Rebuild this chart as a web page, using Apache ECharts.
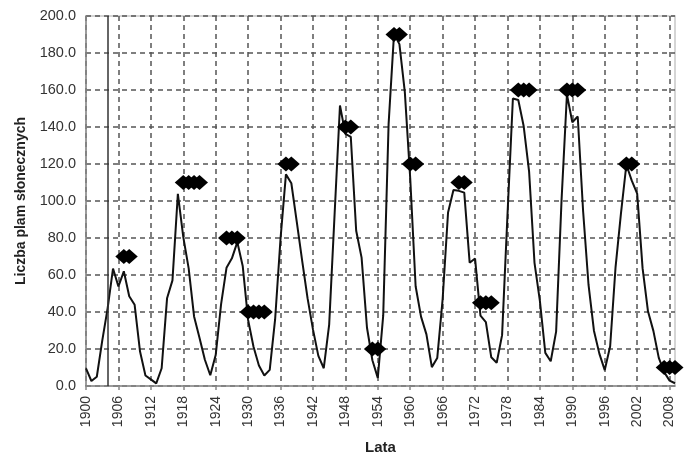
<!DOCTYPE html>
<html>
<head>
<meta charset="utf-8">
<script src="https://cdn.jsdelivr.net/npm/echarts@6/dist/echarts.min.js"></script>
<style>
html,body{margin:0;padding:0;background:#fff;}
#chart{width:699px;height:461px;}
</style>
</head>
<body>
<div id="chart"></div>
<script>
// Categories: years
var years = ['1900','1901','1902','1903','1904','1905','1906','1907','1908','1909',
'1910','1911','1912','1913','1914','1915','1916','1917','1918','1919',
'1920','1921','1922','1923','1924','1925','1926','1927','1928','1929',
'1930','1931','1932','1933','1934','1935','1936','1937','1938','1939',
'1940','1941','1942','1943','1944','1945','1946','1947','1948','1949',
'1950','1951','1952','1953','1954','1955','1956','1957','1958','1959',
'1960','1961','1962','1963','1964','1965','1966','1967','1968','1969',
'1970','1971','1972','1973','1974','1975','1976','1977','1978','1979',
'1980','1981','1982','1983','1984','1985','1986','1987','1988','1989',
'1990','1991','1992','1993','1994','1995','1996','1997','1998','1999',
'2000','2001','2002','2003','2004','2005','2006','2007','2008','2009'];

// Yearly sunspot numbers
var sunspots = [9.5,2.7,5.0,24.4,42.0,63.5,53.8,62.0,48.5,43.9,
18.6,5.7,3.6,1.4,9.6,47.4,57.1,103.9,80.6,63.6,
37.6,26.1,14.2,5.8,16.7,44.3,63.9,69.0,77.8,64.9,
35.7,21.2,11.1,5.7,8.7,36.1,79.7,114.4,109.6,88.8,
67.8,47.5,30.6,16.3,9.6,33.2,92.6,151.6,136.3,134.7,
83.9,69.4,31.5,13.9,4.4,38.0,141.7,190.2,184.8,159.0,
112.3,53.9,37.5,27.9,10.2,15.1,47.0,93.8,105.9,105.5,
104.5,66.6,68.9,38.0,34.5,15.5,12.6,27.5,92.5,155.4,
154.6,140.4,115.9,66.6,45.9,17.9,13.4,29.4,100.2,157.6,
142.6,145.7,94.3,54.6,29.9,17.5,8.6,21.5,64.3,93.3,
119.6,111.0,104.0,63.7,40.4,29.8,15.2,7.5,2.9,1.5];

// Diamond markers
var markerYears = ['1907','1908',
'1918','1919','1920','1921',
'1926','1927','1928',
'1930','1931','1932','1933',
'1937','1938',
'1948','1949',
'1953','1954',
'1957','1958',
'1960','1961',
'1969','1970',
'1973','1974','1975',
'1980','1981','1982',
'1989','1990','1991',
'2000','2001',
'2007','2008','2009'];
var markerValues = [70,70,
110,110,110,110,
80,80,80,
40,40,40,40,
120,120,
140,140,
20,20,
190,190,
120,120,
110,110,
45,45,45,
160,160,160,
160,160,160,
120,120,
10,10,10];

// Solid vertical reference line
var refYears = ['1904'];

// Y axis range
var yMin = 0, yMax = 200, yStep = 20;

var markerData = markerYears.map(function(y, i){ return [y, markerValues[i]]; });

var chart = echarts.init(document.getElementById('chart'), null, {renderer:'canvas'});
var font = '"Liberation Sans", Arial, sans-serif';
chart.setOption({
  animation: false,
  backgroundColor: '#fff',
  grid: {left: 86, right: 24, top: 16, bottom: 75, show: true, borderColor: '#c8c8c8', borderWidth: 1.5},
  xAxis: {
    type: 'category',
    data: years,
    boundaryGap: false,
    name: 'Lata',
    nameLocation: 'middle',
    nameGap: 54,
    nameTextStyle: {fontFamily: font, fontWeight: 'bold', fontSize: 15, color: '#222'},
    axisLine: {show: true, lineStyle: {color: '#888', width: 1.5}},
    axisTick: {show: true, interval: 5, length: 4, lineStyle: {color: '#888', width: 1.5}},
    axisLabel: {interval: 5, rotate: 90, margin: 10, fontFamily: font, fontSize: 14, color: '#333'},
    splitLine: {show: true, interval: 5, lineStyle: {color: '#555', type: [5, 4], width: 1.5}}
  },
  yAxis: {
    type: 'value',
    min: yMin, max: yMax, interval: yStep,
    name: 'Liczba plam słonecznych',
    nameLocation: 'middle',
    nameGap: 58,
    nameTextStyle: {fontFamily: font, fontWeight: 'bold', fontSize: 14, color: '#222'},
    axisLine: {show: true, lineStyle: {color: '#888', width: 1.5}},
    axisTick: {show: false},
    axisLabel: {margin: 10, fontFamily: font, fontSize: 14.5, color: '#333',
      formatter: function(v){ return v.toFixed(1); }},
    splitLine: {show: true, lineStyle: {color: '#555', type: [5, 4], width: 1.5}}
  },
  series: [
    {
      type: 'line',
      data: sunspots,
      showSymbol: false,
      symbol: 'none',
      lineStyle: {color: '#111', width: 2},
      z: 3,
      markLine: {
        silent: true,
        symbol: ['none', 'none'],
        label: {show: false},
        lineStyle: {color: '#333', width: 1.5, type: 'solid'},
        data: refYears.map(function(y){ return {xAxis: y}; })
      }
    },
    {
      type: 'scatter',
      data: markerData,
      symbol: 'diamond',
      symbolSize: [17, 15],
      clip: false,
      itemStyle: {color: '#000', opacity: 1, borderWidth: 0},
      z: 4
    }
  ]
});
</script>
</body>
</html>
